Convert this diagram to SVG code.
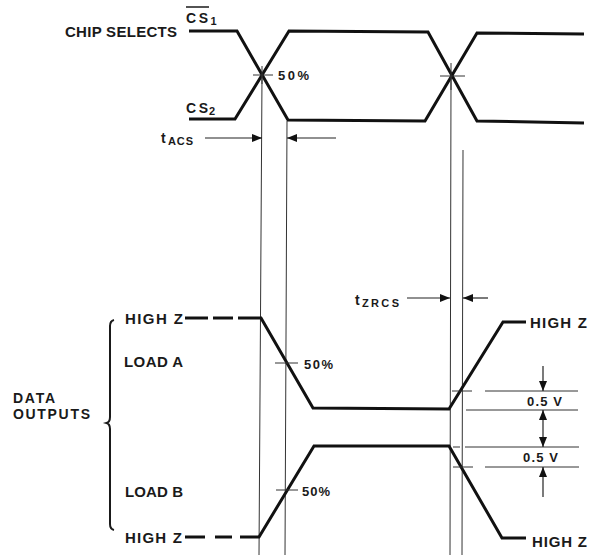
<svg xmlns="http://www.w3.org/2000/svg" width="592" height="555" viewBox="0 0 592 555">
<style>
.lbl{font-family:"Liberation Sans",Arial,sans-serif;font-weight:bold;fill:#1a1a1a;}
.big{font-size:15px;}
.sm{font-size:13px;}
.sub{font-size:11px;}
.reg{font-family:"Liberation Sans",Arial,sans-serif;fill:#1a1a1a;}
.wave{fill:none;stroke:#111;stroke-width:3;stroke-linejoin:miter;}
.thin{fill:none;stroke:#333;stroke-width:1;}
.dim{fill:none;stroke:#222;stroke-width:1.2;}
</style>
<defs>
<marker id="ah" viewBox="0 0 10 8" refX="10" refY="4" markerWidth="10" markerHeight="8" markerUnits="userSpaceOnUse" orient="auto-start-reverse">
<path d="M0,0 L10,4 L0,8 Z" fill="#111"/>
</marker>
</defs>
<rect width="592" height="555" fill="#fff"/>

<g id="chip-selects-label">
<text class="lbl big" x="65" y="36.5" textLength="112" lengthAdjust="spacing">CHIP SELECTS</text>
</g>
<g id="cs1-label">
<text class="reg" x="186" y="22.5" font-size="14" font-weight="bold" textLength="22" lengthAdjust="spacing">CS</text>
<line x1="186" y1="7" x2="209" y2="7" stroke="#1a1a1a" stroke-width="1.5"/>
<text class="reg" x="210.5" y="24.5" font-size="11" font-weight="bold">1</text>
</g>
<g id="cs2-label">
<text class="reg" x="186" y="112.5" font-size="14" font-weight="bold" textLength="22" lengthAdjust="spacing">CS</text>
<text class="reg" x="209" y="115" font-size="11" font-weight="bold">2</text>
</g>

<g id="cs-waveforms">
<path class="wave" d="M189 31 L237 31 L288 120 L425 121 L477 33 L584 34"/>
<path class="wave" d="M189 119 L235 119 L289 31 L428 32 L477 121 L584 123"/>
<line class="thin" x1="253" y1="75" x2="273" y2="75"/>
<line class="thin" x1="262" y1="66" x2="262" y2="84"/>
<line class="thin" x1="440" y1="76" x2="465" y2="76"/>
<line class="thin" x1="451" y1="63" x2="451" y2="90"/>
<text class="lbl sm" x="278" y="80" textLength="31" lengthAdjust="spacing">50%</text>
</g>

<g id="reference-lines">
<line class="thin" x1="262" y1="76" x2="259" y2="555"/>
<line class="thin" x1="287" y1="121" x2="285" y2="555"/>
<line class="thin" x1="451" y1="76" x2="450" y2="555"/>
<line class="thin" x1="463" y1="150" x2="462" y2="555"/>
</g>

<g id="tacs-label">
<text class="lbl" x="161" y="143" font-size="14">t</text>
<text class="lbl sub" x="168" y="145" textLength="25" lengthAdjust="spacing">ACS</text>
</g>
<g id="tzrcs-label">
<text class="lbl" x="355" y="305" font-size="14">t</text>
<text class="lbl sub" x="362" y="307" textLength="37" lengthAdjust="spacing">ZRCS</text>
</g>

<g id="data-outputs-label">
<text class="lbl" font-size="14" x="13" y="403" textLength="42" lengthAdjust="spacing">DATA</text>
<text class="lbl" font-size="14" x="13" y="419" textLength="77" lengthAdjust="spacing">OUTPUTS</text>
<path d="M114 320 Q110 321 110 326 L110 417 Q110 422 106.5 423 Q110 424 110 429 L110 524 Q110 529 114 530" fill="none" stroke="#1a1a1a" stroke-width="2"/>
</g>

<g id="load-a">
<text class="lbl big" x="125" y="324" textLength="58" lengthAdjust="spacing">HIGH Z</text>
<text class="lbl big" x="124" y="366.5" textLength="59" lengthAdjust="spacing">LOAD A</text>
<line class="wave" x1="185" y1="318" x2="208" y2="318"/>
<line class="wave" x1="213" y1="318" x2="233" y2="318"/>
<path class="wave" d="M238 318 L261 318 L313 408 L449 409 L503 322 L526 322"/>
<line class="thin" x1="275" y1="363" x2="298" y2="363"/>
<text class="lbl sm" x="304" y="369" textLength="29" lengthAdjust="spacing">50%</text>
<text class="lbl big" x="530" y="327.5" textLength="57" lengthAdjust="spacing">HIGH Z</text>
</g>

<g id="load-b">
<text class="lbl big" x="125" y="496.5" textLength="58" lengthAdjust="spacing">LOAD B</text>
<text class="lbl big" x="125" y="542.5" textLength="57" lengthAdjust="spacing">HIGH Z</text>
<line class="wave" x1="185" y1="537" x2="205" y2="537"/>
<line class="wave" x1="215" y1="537" x2="232" y2="537"/>
<path class="wave" d="M240 537 L259 537 L314 446 L449 446 L502 538 L526 538"/>
<line class="thin" x1="276" y1="490" x2="298" y2="490"/>
<text class="lbl sm" x="302" y="496" textLength="28" lengthAdjust="spacing">50%</text>
<text class="lbl big" x="532" y="546.5" textLength="55" lengthAdjust="spacing">HIGH Z</text>
</g>

<g id="voltage-levels">
<line class="thin" x1="452" y1="391" x2="472" y2="391"/>
<line class="thin" x1="485" y1="391" x2="578" y2="391"/>
<line class="thin" x1="466" y1="410" x2="578" y2="410"/>
<line class="thin" x1="453" y1="447" x2="460" y2="447"/>
<line class="thin" x1="465" y1="447" x2="579" y2="447"/>
<line class="thin" x1="453" y1="467" x2="473" y2="467"/>
<line class="thin" x1="485" y1="467" x2="579" y2="467"/>
<text class="lbl sm" x="527" y="406" textLength="35" lengthAdjust="spacing">0.5 V</text>
<text class="lbl sm" x="523" y="462" textLength="35" lengthAdjust="spacing">0.5 V</text>
</g>

<g id="connectors">
<line class="dim" x1="205" y1="138" x2="262" y2="138" marker-end="url(#ah)"/>
<line class="dim" x1="336" y1="138" x2="287" y2="138" marker-end="url(#ah)"/>
<line class="dim" x1="407" y1="298" x2="450" y2="298" marker-end="url(#ah)"/>
<line class="dim" x1="488" y1="298" x2="463" y2="298" marker-end="url(#ah)"/>
<line class="dim" x1="543" y1="366" x2="543" y2="391" marker-end="url(#ah)"/>
<line class="dim" x1="543" y1="410" x2="543" y2="447" marker-start="url(#ah)" marker-end="url(#ah)"/>
<line class="dim" x1="543" y1="497" x2="543" y2="467" marker-end="url(#ah)"/>
</g>
</svg>
